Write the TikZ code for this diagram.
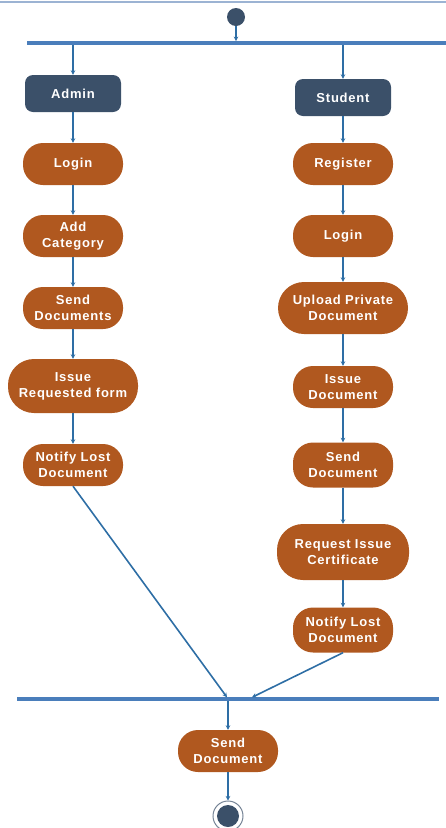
\documentclass[tikz,border=0pt]{standalone}
\usepackage{fontspec}
\setmainfont{Liberation Sans}[LetterSpace=6]
\usetikzlibrary{arrows.meta}
\definecolor{actfill}{HTML}{B0581F}
\definecolor{rolefill}{HTML}{3B5069}
\definecolor{flowline}{HTML}{2E6EA5}
\definecolor{barline}{HTML}{4A7EBB}
\definecolor{frameline}{HTML}{9CB3D3}

\tikzset{
  act/.style={draw=none,fill=actfill,text=white,align=center,rounded corners=20pt,
    minimum width=100pt,minimum height=42pt,inner sep=2pt,
    font=\fontsize{13}{16}\selectfont\bfseries},
  actw/.style={act,minimum width=130pt,minimum height=54pt,rounded corners=26pt},
  role/.style={fill=rolefill,text=white,rounded corners=8pt,
    minimum width=96pt,minimum height=37pt,
    font=\fontsize{13}{16}\selectfont\bfseries},
  bar/.style={fill=barline,inner sep=0pt,minimum height=3.5pt},
  flow/.style={-{Stealth[length=4.5pt,width=4.5pt]},draw=flowline,line width=1.6pt}
}

\begin{document}
\begin{tikzpicture}[x=1pt,y=-1pt]

    \useasboundingbox (0,0) rectangle (446,828);
    \draw[frameline,line width=1.5pt] (0,2) -- (446,2);

    \node[circle,fill=rolefill,minimum size=18pt,inner sep=0pt] (In) at (236,17) {};
    \node[bar,minimum width=419pt] (FoBa) at (236.5,43) {};

    \node[role] (Ad) at (73,93.5) {Admin};
    \node[role] (St) at (343,97.5) {Student};

    \node[act] (LoA) at (73,164) {Login};
    \node[act] (AdCa) at (73,236) {Add\\Category};
    \node[act] (SeDo) at (73,308) {Send\\Documents};
    \node[actw] (IsRF) at (73,386) {Issue\\Requested form};
    \node[act] (NoLD) at (73,465) {Notify Lost\\Document};

    \node[act] (Re) at (343,164) {Register};
    \node[act] (LoS) at (343,236) {Login};
    \node[actw,minimum height=52pt] (UpPD) at (343,308) {Upload Private\\Document};
    \node[act] (IsDo) at (343,387) {Issue\\Document};
    \node[act,minimum height=45pt] (SeDS) at (343,465) {Send\\Document};
    \node[actw,minimum width=132pt,minimum height=56pt] (ReIC) at (343,552) {Request Issue\\Certificate};
    \node[act,minimum height=45pt] (NoLS) at (343,630) {Notify Lost\\Document};

    \node[bar,minimum width=422pt] (JoBa) at (228,699) {};
    \coordinate (JoL) at (227,697.3);
    \coordinate (JoR) at (252,697.3);

    \node[act] (SeDF) at (228,751) {Send\\Document};
    \node[circle,draw=rolefill!70,line width=1pt,minimum size=30pt,inner sep=0pt] (Fi) at (228,816) {};
    \node[circle,fill=rolefill,minimum size=22pt,inner sep=0pt] (FiIn) at (Fi) {};

    \draw[flow] (In) to (In |- FoBa.north);
    \draw[flow] (FoBa.south -| Ad) to (Ad);
    \draw[flow] (FoBa.south -| St) to (St);

    \draw[flow] (Ad) to (LoA);
    \draw[flow] (LoA) to (AdCa);
    \draw[flow] (AdCa) to (SeDo);
    \draw[flow] (SeDo) to (IsRF);
    \draw[flow] (IsRF) to (NoLD);

    \draw[flow] (St) to (Re);
    \draw[flow] (Re) to (LoS);
    \draw[flow] (LoS) to (UpPD);
    \draw[flow] (UpPD) to (IsDo);
    \draw[flow] (IsDo) to (SeDS);
    \draw[flow] (SeDS) to (ReIC);
    \draw[flow] (ReIC) to (NoLS);

    \draw[flow] (NoLD.south) to (JoL);
    \draw[flow] (NoLS.south) to (JoR);
    \draw[flow] (JoBa.south -| SeDF) to (SeDF);
    \draw[flow] (SeDF) to (Fi);

\end{tikzpicture}
\end{document}
